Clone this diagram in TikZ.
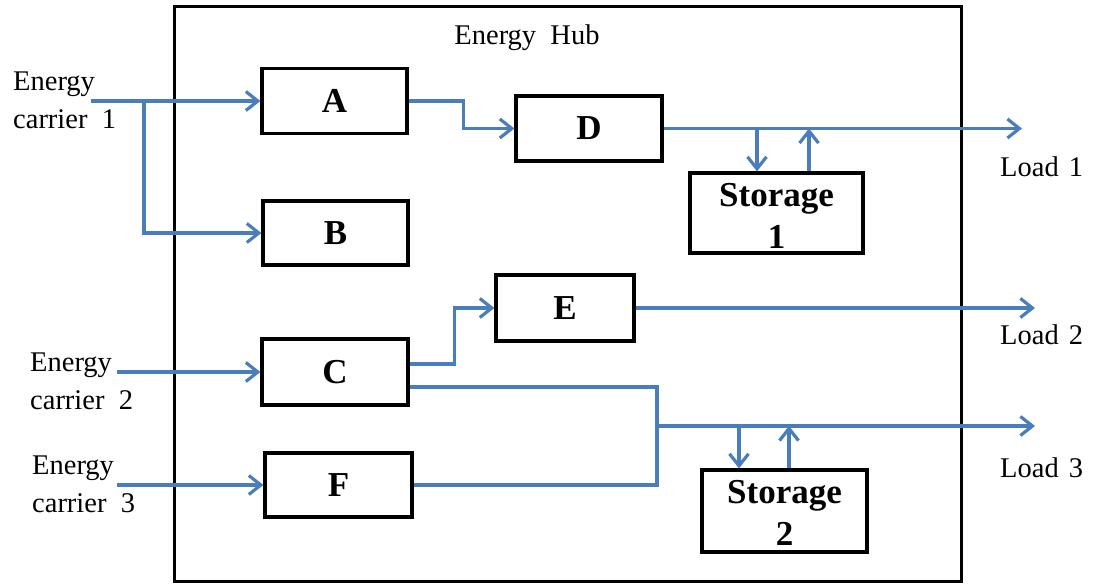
\documentclass[tikz,border=0pt]{standalone}
\usepackage{fontspec}
\setmainfont{Liberation Serif}
\usetikzlibrary{arrows.meta}
\definecolor{flowblue}{RGB}{74,126,187}
\begin{document}
\begin{tikzpicture}[x=1pt,y=-1pt,
  blk/.style={draw=black, line width=3.2pt, inner sep=0pt, align=center,
    font=\bfseries\fontsize{35}{42}\selectfont},
  flow/.style={draw=flowblue, line width=3.2pt},
  arr/.style={flow, -{Straight Barb[length=12pt,width=19pt,line width=3.2pt]}},
  lbl/.style={inner sep=0pt, align=left, font=\fontsize{28.5}{38}\selectfont}]
\useasboundingbox (0,0) rectangle (1099,583);
% hub frame
\draw[line width=3pt] (174,7) rectangle (961,581);
\node[lbl] (hub) at (527,38) {Energy\ \ Hub};
% blocks
\node[blk, minimum width=145pt, minimum height=65pt] (A) at (334.5,101) {A};
\node[blk, minimum width=145pt, minimum height=64pt] (B) at (335.5,233) {B};
\node[blk, minimum width=146pt, minimum height=66pt] (C) at (335,372) {C};
\node[blk, minimum width=146pt, minimum height=65pt] (D) at (589,128.5) {D};
\node[blk, minimum width=138pt, minimum height=66pt] (E) at (565,308) {E};
\node[blk, minimum width=147pt, minimum height=64pt] (F) at (338.5,485) {F};
\node[blk, minimum width=173pt, minimum height=80pt] (S1) at (776.5,213) {\rule{0pt}{29pt}Storage\\1};
\node[blk, minimum width=165pt, minimum height=82pt] (S2) at (784.5,511) {\rule{0pt}{27pt}Storage\\2};
% labels
\node[lbl, anchor=west] (ec1) at (13,100) {Energy\\carrier\ \ 1};
\node[lbl, anchor=west] (ec2) at (30,381) {Energy\\carrier\ \ 2};
\node[lbl, anchor=west] (ec3) at (32,484) {Energy\\carrier\ \ 3};
\node[lbl, anchor=west] (l1) at (1000,167) {Load\hspace{3pt} 1};
\node[lbl, anchor=west] (l2) at (1000,335) {Load\hspace{3pt} 2};
\node[lbl, anchor=west] (l3) at (1000,468) {Load\hspace{3pt} 3};
% coordinates
\coordinate (in1) at (91,101);
\coordinate (j1) at (144,101);
\coordinate (in2) at (117,372);
\coordinate (in3) at (117,485);
\coordinate (L1) at (1022,128.5);
\coordinate (L2) at (1035,308);
\coordinate (L3) at (1035,426);
\coordinate (j3) at (657,426);
\coordinate (s1a) at (757,128.5);
\coordinate (s1b) at (809,128.5);
\coordinate (s2a) at (739,426);
\coordinate (s2b) at (789,426);
% flows
\draw[arr] (in1) -- (A.west);
\draw[arr] (j1) |- (B.west);
\draw[arr] (A.east) -- ++(55,0) |- (D.west);
\draw[arr] (D.east) -- (L1);
\draw[arr] (s1a) -- (s1a |- S1.north);
\draw[arr] (s1b |- S1.north) -- (s1b);
\draw[arr] (in2) -- (C.west);
\draw[arr] (in3) -- (F.west);
\draw[arr] ([yshift=8pt]C.east) -- ++(45,0) |- (E.west);
\draw[arr] (E.east) -- (L2);
\draw[flow] ([yshift=-15pt]C.east) -| (j3);
\draw[flow] (F.east) -| (j3);
\draw[arr] (j3) -- (L3);
\draw[arr] (s2a) -- (s2a |- S2.north);
\draw[arr] (s2b |- S2.north) -- (s2b);
\end{tikzpicture}
\end{document}
